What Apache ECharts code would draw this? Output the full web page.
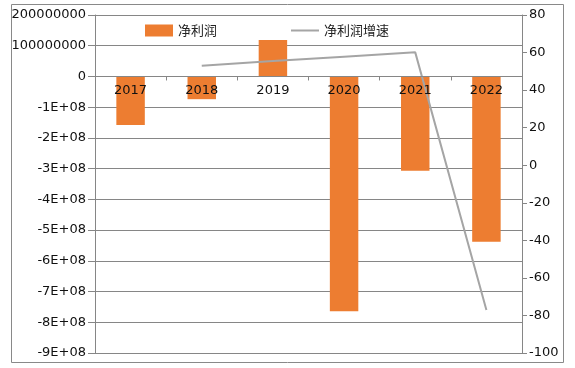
<!DOCTYPE html>
<html><head><meta charset="utf-8">
<script src="https://cdn.jsdelivr.net/npm/echarts@6/dist/echarts.min.js"></script>
<style>html,body{margin:0;padding:0;background:#fff}#c{width:575px;height:368px}</style>
</head><body><div id="c"></div>
<script>
const categories = ['2017','2018','2019','2020','2021','2022'];
const netProfit = [-158000000, -74000000, 119000000, -764000000, -307000000, -538000000];
const growth = [null, 53.0, 55.5, 57.8, 60.1, -77.1];
const leftTicks = {min: -900000000, max: 200000000, interval: 100000000};
const rightTicks = {min: -100, max: 80, interval: 20};

const font = 'DejaVu Sans';
const gridTop = 15;
const chart = echarts.init(document.getElementById('c'));
function fmtLeft(v){
  if (v >= 0) return String(v);
  return '-' + Math.round(-v/1e8) + 'E+08';
}
chart.setOption({
  animation: false,
  textStyle: {fontFamily: font},
  graphic: [{type:'rect', shape:{x:11.5,y:4.5,width:552,height:358}, style:{fill:'none', stroke:'#898989', lineWidth:1}, z:-1}],
  legend: {
    top: 19, left: 140, itemGap: 74, itemWidth: 28, itemHeight: 12,
    textStyle: {fontSize: 13, color: '#222', fontFamily: 'Noto Sans CJK SC'},
    data: [{name:'净利润', icon:'rect'},
           {name:'净利润增速', icon:'path://M0,0 M0,5 L28,5 L28,7 L0,7 Z M28,12', itemStyle:{color:'#a5a5a5'}}]
  },
  grid: {left: 95, right: 53, top: gridTop, bottom: 15},
  xAxis: {
    type: 'category', data: categories, z: 10, position: 'top', offset: 0,
    axisLine: {onZero: false, lineStyle: {color: '#868686'}},
    axisTick: {show: true, inside: true, length: 4, lineStyle: {color: '#868686'}},
    axisLabel: {color: '#111', fontSize: 13, inside: true, margin: 8, fontFamily: font}
  },
  yAxis: [{
    type: 'value', min: leftTicks.min, max: leftTicks.max, interval: leftTicks.interval,
    axisLine: {show: true, onZero: false, lineStyle: {color: '#868686'}},
    axisTick: {show: true, length: 7, lineStyle: {color: '#868686'}},
    splitLine: {lineStyle: {color: '#868686'}},
    axisLabel: {color: '#111', fontSize: 13, margin: 9, formatter: fmtLeft}
  }, {
    type: 'value', min: rightTicks.min, max: rightTicks.max, interval: rightTicks.interval,
    position: 'right',
    axisLine: {show: true, onZero: false, lineStyle: {color: '#868686'}},
    axisTick: {show: true, length: 5, lineStyle: {color: '#868686'}},
    splitLine: {show: false},
    axisLabel: {color: '#111', fontSize: 13, margin: 7}
  }],
  series: [{
    name: '净利润', type: 'bar', data: netProfit, barWidth: '40%',
    itemStyle: {color: '#ed7d31'}, yAxisIndex: 0
  }, {
    name: '净利润增速', type: 'line', data: growth, yAxisIndex: 1,
    symbol: 'none', lineStyle: {color: '#a5a5a5', width: 2}, itemStyle: {color: '#a5a5a5'}, z: 5
  }]
});
// place the category axis on the zero line of the left value axis
const zeroY = chart.convertToPixel({yAxisIndex: 0}, 0);
chart.setOption({xAxis: {offset: -(zeroY - gridTop)}});
</script></body></html>
